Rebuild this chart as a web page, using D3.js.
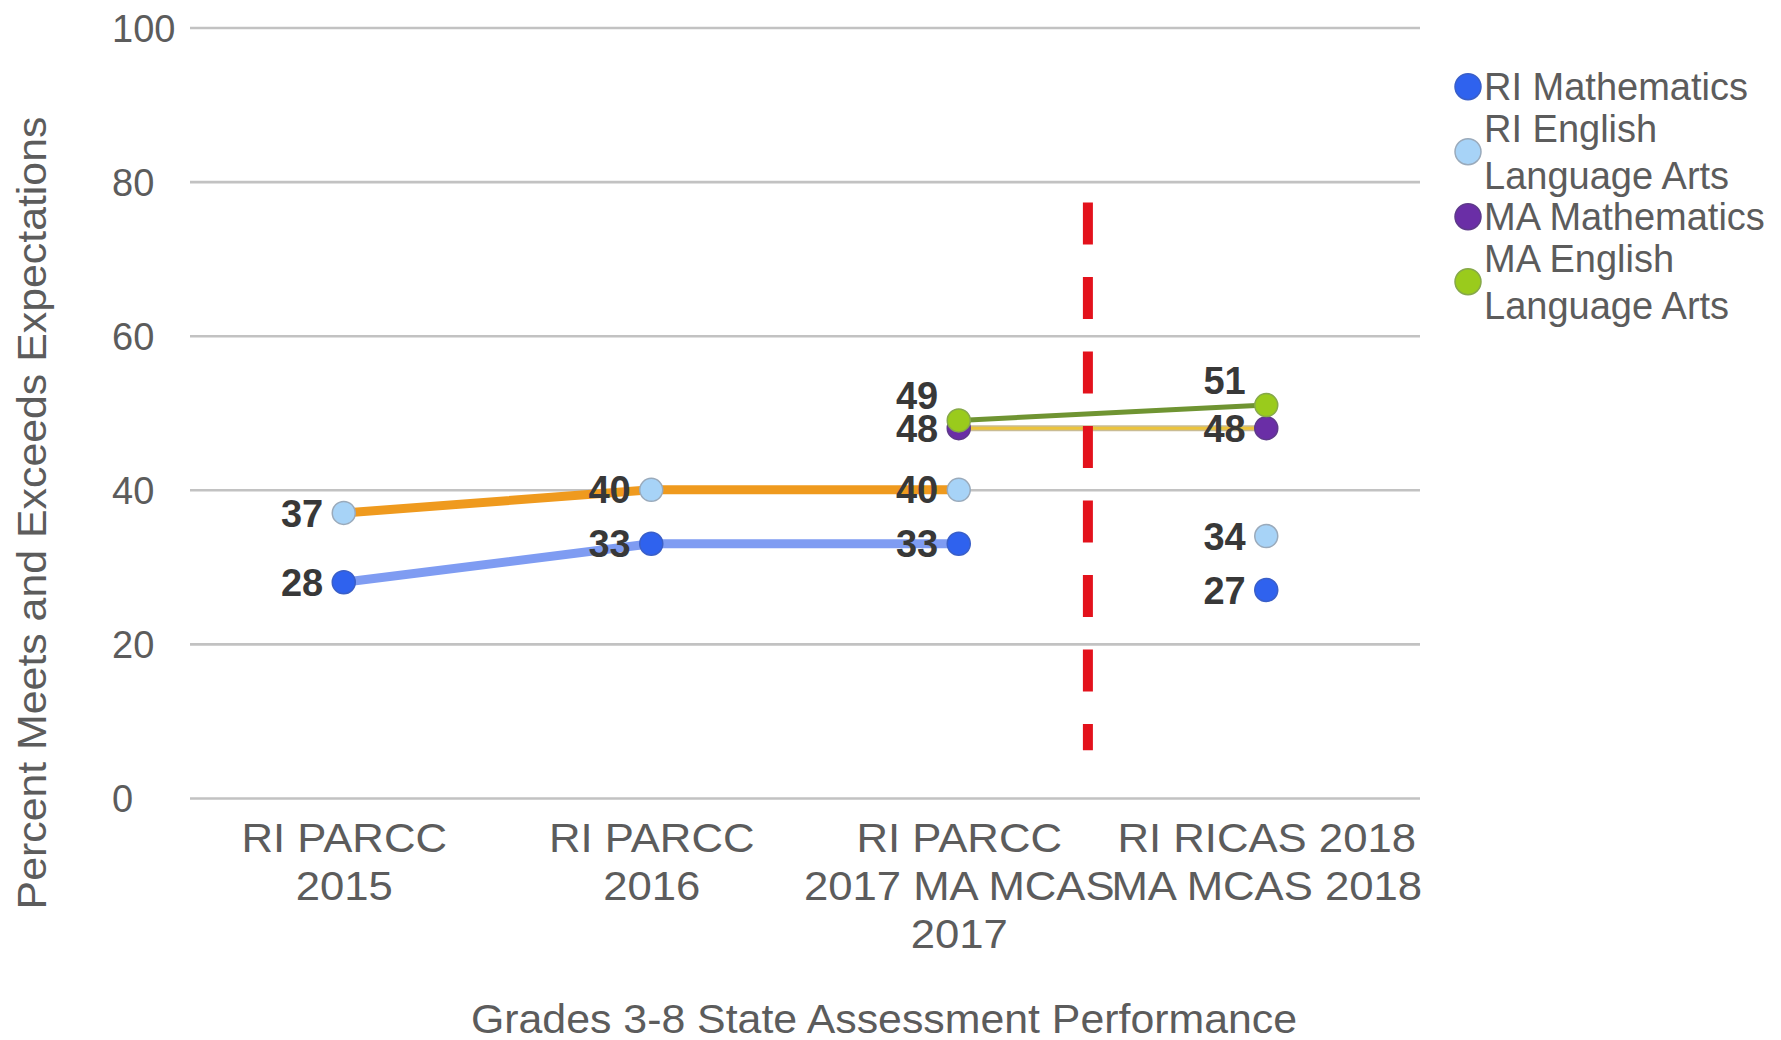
<!DOCTYPE html>
<html>
<head>
<meta charset="utf-8">
<script src="https://cdn.jsdelivr.net/npm/d3@7"></script>
<style>
  html, body { margin: 0; padding: 0; background: #ffffff; }
  svg { display: block; font-family: "Liberation Sans", Arial, sans-serif; }
</style>
</head>
<body>
<svg id="chart" width="1781" height="1040"></svg>
<script>
// ---------------- DATA ----------------
const categories = ["RI PARCC 2015", "RI PARCC 2016", "RI PARCC 2017 MA MCAS 2017", "RI RICAS 2018 MA MCAS 2018"];
const tickLabelLines = [
  ["RI PARCC", "2015"],
  ["RI PARCC", "2016"],
  ["RI PARCC", "2017 MA MCAS", "2017"],
  ["RI RICAS 2018", "MA MCAS 2018"]
];
const seriesNames = ["RI Mathematics", "RI English Language Arts", "MA Mathematics", "MA English Language Arts"];
const legendLines = [["RI Mathematics"], ["RI English", "Language Arts"], ["MA Mathematics"], ["MA English", "Language Arts"]];
const riMath = [28, 33, 33, 27];
const riEla = [37, 40, 40, 34];
const maMath = [null, null, 48, 48];
const maEla = [null, null, 49, 51];
const yTicks = [0, 20, 40, 60, 80, 100];
const xTitle = "Grades 3-8 State Assessment Performance";
const yTitle = "Percent Meets and Exceeds Expectations";
// divider between the 2017 and 2018 assessments (category position, value range)
const dividerAt = 2.42;
const dividerRange = [6.2, 77.3];

(function () {
// ---------------- STYLE ----------------
const series = [
  { name: seriesNames[0], values: riMath, marker: "#2f62ee", markerStroke: "#3a5fc8", line: "#7f9cf2", lineW: 9, connect: [0, 2], label: "left" },
  { name: seriesNames[1], values: riEla, marker: "#a7d3f7", markerStroke: "#9aaabb", line: "#ef9a1e", lineW: 9, connect: [0, 2], label: "left" },
  { name: seriesNames[2], values: maMath, marker: "#6a2ea6", markerStroke: "#5e3a8a", line: "#ecc43c", lineEdge: "#c9bc94", lineW: 3, connect: [2, 3], label: "left" },
  { name: seriesNames[3], values: maEla, marker: "#9acb1c", markerStroke: "#86a84a", line: "#6f9432", lineW: 5, connect: [2, 3], label: "above" }
];

const svg = d3.select("#chart");
const mLeft = 190, mRight = 1420, mTop = 27.5, mBottom = 798;
const textColor = "#5c5c5c";

const x = d3.scalePoint().domain(categories).range([mLeft, mRight]).padding(0.5);
const y = d3.scaleLinear().domain([0, 100]).range([mBottom, mTop]);

// ---------------- GRID + Y AXIS ----------------
const yAxis = d3.axisLeft(y).tickValues(yTicks).tickSize(-(mRight - mLeft)).tickFormat(d3.format("d"));
const gy = svg.append("g").attr("transform", `translate(${mLeft},0)`).call(yAxis);
gy.select(".domain").remove();
gy.selectAll(".tick line").attr("stroke", "#c2c2c2").attr("stroke-width", 2.6);
gy.selectAll(".tick text")
  .attr("x", 112 - mLeft)
  .attr("text-anchor", "start")
  .attr("fill", textColor)
  .style("font-size", "38px")
  .style("font-family", "'Liberation Sans', Arial, sans-serif")
  .attr("dy", "0.36em");

// ---------------- X AXIS LABELS ----------------
const xAxis = d3.axisBottom(x).tickSize(0).tickFormat("");
const gx = svg.append("g").attr("transform", `translate(0,${mBottom})`).call(xAxis);
gx.select(".domain").remove();
gx.selectAll(".tick").each(function (d, i) {
  const t = d3.select(this).append("text")
    .attr("text-anchor", "middle")
    .attr("transform", "scale(1.065,1)")
    .attr("fill", textColor)
    .style("font-size", "41px")
    .style("font-family", "'Liberation Sans', Arial, sans-serif");
  tickLabelLines[i].forEach((ln, k) => {
    t.append("tspan").attr("x", 0).attr("y", 54.5 + k * 47.7).text(ln);
  });
});

// ---------------- TITLES ----------------
svg.append("text")
  .attr("transform", "translate(884,1033) scale(1.045,1)")
  .attr("text-anchor", "middle")
  .attr("fill", textColor)
  .style("font-size", "41px")
  .text(xTitle);

svg.append("text")
  .attr("transform", "translate(46,513) rotate(-90) scale(1.045,1)")
  .attr("text-anchor", "middle")
  .attr("fill", textColor)
  .style("font-size", "41px")
  .text(yTitle);

// ---------------- LINES ----------------
const lineGen = d3.line()
  .defined(d => d.v != null)
  .x(d => x(categories[d.i]))
  .y(d => y(d.v));

series.forEach(s => {
  const pts = s.values.map((v, i) => ({ v, i })).filter(d => d.i >= s.connect[0] && d.i <= s.connect[1]);
  if (s.lineEdge) {
    svg.append("path").attr("d", lineGen(pts)).attr("fill", "none")
      .attr("stroke", s.lineEdge).attr("stroke-width", s.lineW + 3);
  }
  svg.append("path").attr("d", lineGen(pts)).attr("fill", "none")
    .attr("stroke", s.line).attr("stroke-width", s.lineW)
    .attr("stroke-linejoin", "round");
});

// ---------------- DIVIDER ----------------
const step = x.step();
const dividerX = x(categories[0]) + dividerAt * step;
svg.append("line")
  .attr("x1", dividerX).attr("x2", dividerX)
  .attr("y1", y(dividerRange[1])).attr("y2", y(dividerRange[0]))
  .attr("stroke", "#e3121c").attr("stroke-width", 10)
  .attr("stroke-dasharray", "42,32.5");

// ---------------- MARKERS ----------------
series.forEach(s => {
  svg.append("g").selectAll("circle")
    .data(s.values.map((v, i) => ({ v, i })).filter(d => d.v != null))
    .join("circle")
    .attr("cx", d => x(categories[d.i]))
    .attr("cy", d => y(d.v))
    .attr("r", 11.5)
    .attr("fill", s.marker)
    .attr("stroke", s.markerStroke)
    .attr("stroke-width", 1.5);
});

// ---------------- DATA LABELS ----------------
series.forEach(s => {
  svg.append("g").selectAll("text")
    .data(s.values.map((v, i) => ({ v, i })).filter(d => d.v != null))
    .join("text")
    .attr("x", d => x(categories[d.i]) - 20.5)
    .attr("y", d => y(d.v) + (s.label === "above" ? -25 : 0))
    .attr("dy", "0.36em")
    .attr("text-anchor", "end")
    .attr("fill", "#383838")
    .style("font-size", "38px")
    .style("font-weight", "bold")
    .text(d => d.v);
});

// ---------------- LEGEND ----------------
const legendX = 1468, legendY0 = 86.7, legendGap = 65, lineH = 46.7;
series.forEach((s, i) => {
  const cy = legendY0 + i * legendGap;
  const g = svg.append("g");
  g.append("circle").attr("cx", legendX).attr("cy", cy).attr("r", 13)
    .attr("fill", s.marker).attr("stroke", s.markerStroke).attr("stroke-width", 1.5);
  const lines = legendLines[i];
  const t = g.append("text").attr("fill", textColor).style("font-size", "38px");
  lines.forEach((ln, k) => {
    const offset = (k - (lines.length - 1) / 2) * lineH;
    t.append("tspan").attr("x", legendX + 16).attr("y", cy + offset).attr("dy", "0.36em").text(ln);
  });
});
})();
</script>
</body>
</html>
